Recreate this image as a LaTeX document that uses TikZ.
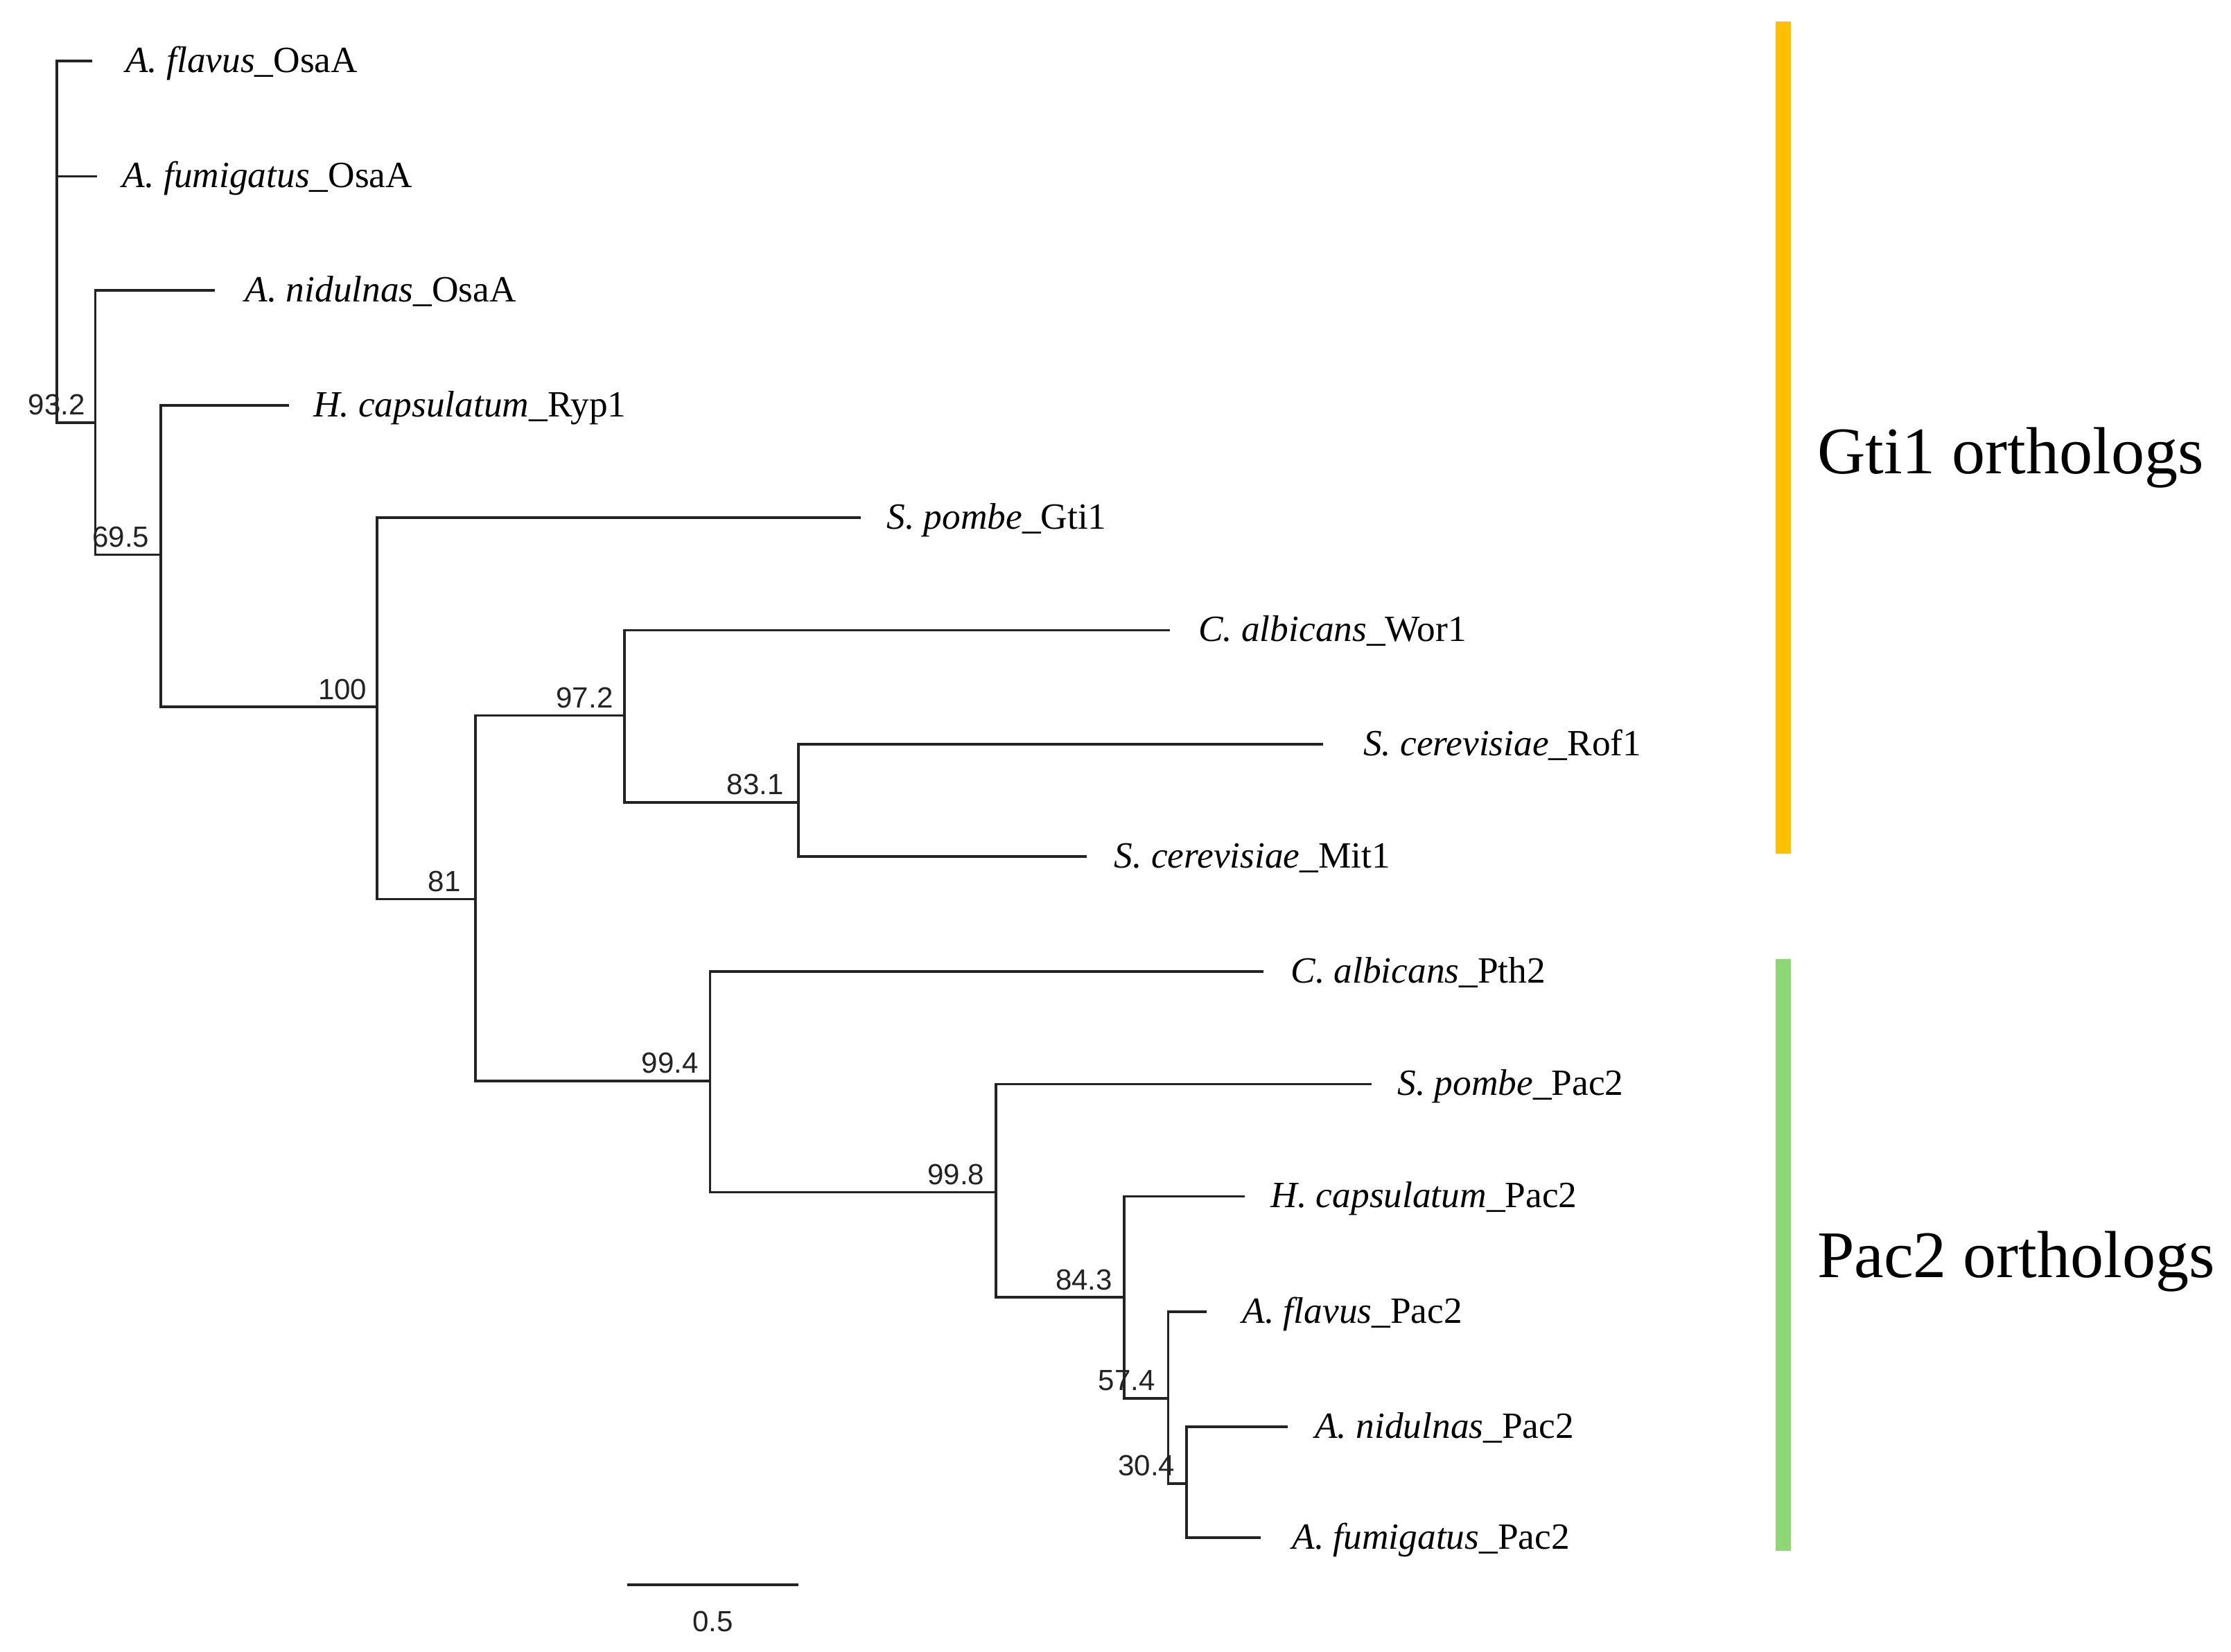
\documentclass[tikz,border=0pt]{standalone}
\usepackage{fontspec}
\setmainfont{Liberation Serif}
\newfontfamily\arialf{Liberation Sans}
\definecolor{barorange}{RGB}{255,192,0}
\definecolor{bargreen}{RGB}{143,214,116}
\definecolor{treeline}{RGB}{35,35,35}
\begin{document}
\begin{tikzpicture}[x=1pt,y=-1pt,
  branch/.style={draw=treeline,line width=1.8pt},
  leaf/.style={anchor=base west,inner sep=0pt,font=\fontsize{26}{30}\selectfont},
  boot/.style={anchor=base east,inner sep=0pt,text=treeline,font=\arialf\fontsize{20.5}{24}\selectfont},
  group/.style={anchor=base west,inner sep=0pt,font=\fontsize{46.8}{52}\selectfont}]
\useasboundingbox (0,0) rectangle (1568,1160.8);
% internal nodes
\coordinate (A) at (40,170);
\coordinate (B) at (67,297);
\coordinate (C) at (113,390);
\coordinate (D) at (265,497);
\coordinate (E) at (334,632);
\coordinate (F) at (439,503);
\coordinate (G) at (561,564);
\coordinate (H) at (499,760);
\coordinate (I) at (700,838);
\coordinate (J) at (790,912);
\coordinate (K) at (821,983);
\coordinate (L) at (834,1043);
% leaf tips
\coordinate (t1) at (65,43);
\coordinate (t2) at (68,124);
\coordinate (t3) at (151,204);
\coordinate (t4) at (203,285);
\coordinate (t5) at (605,364);
\coordinate (t6) at (822,443);
\coordinate (t7) at (930,523);
\coordinate (t8) at (764,602);
\coordinate (t9) at (888,683);
\coordinate (t10) at (964,762);
\coordinate (t11) at (875,841);
\coordinate (t12) at (848,922);
\coordinate (t13) at (905,1003);
\coordinate (t14) at (886,1081);
% branches
\path[branch] (A) |- (t1) (A) |- (t2) (A) |- (B);
\path[branch] (B) |- (t3) (B) |- (C);
\path[branch] (C) |- (t4) (C) |- (D);
\path[branch] (D) |- (t5) (D) |- (E);
\path[branch] (E) |- (F) (E) |- (H);
\path[branch] (F) |- (t6) (F) |- (G);
\path[branch] (G) |- (t7) (G) |- (t8);
\path[branch] (H) |- (t9) (H) |- (I);
\path[branch] (I) |- (t10) (I) |- (J);
\path[branch] (J) |- (t11) (J) |- (K);
\path[branch] (K) |- (t12) (K) |- (L);
\path[branch] (L) |- (t13) (L) |- (t14);
% leaf labels
\node[leaf] (l1) at (88,51) {\textit{A. flavus}\_OsaA};
\node[leaf] (l2) at (86,132) {\textit{A. fumigatus}\_OsaA};
\node[leaf] (l3) at (172,212) {\textit{A. nidulnas}\_OsaA};
\node[leaf] (l4) at (220,293) {\textit{H. capsulatum}\_Ryp1};
\node[leaf] (l5) at (623,372) {\textit{S. pombe}\_Gti1};
\node[leaf] (l6) at (842,451) {\textit{C. albicans}\_Wor1};
\node[leaf] (l7) at (958,531) {\textit{S. cerevisiae}\_Rof1};
\node[leaf] (l8) at (783,610) {\textit{S. cerevisiae}\_Mit1};
\node[leaf] (l9) at (907,691) {\textit{C. albicans}\_Pth2};
\node[leaf] (l10) at (982,770) {\textit{S. pombe}\_Pac2};
\node[leaf] (l11) at (893,849) {\textit{H. capsulatum}\_Pac2};
\node[leaf] (l12) at (873,930) {\textit{A. flavus}\_Pac2};
\node[leaf] (l13) at (924,1011) {\textit{A. nidulnas}\_Pac2};
\node[leaf] (l14) at (908,1089) {\textit{A. fumigatus}\_Pac2};
% bootstrap values
\node[boot] (bB) at ([shift={(-7,-5.5)}]B) {93.2};
\node[boot] (bC) at ([shift={(-8,-5.5)}]C) {69.5};
\node[boot] (bD) at ([shift={(-7,-5.5)}]D) {100};
\node[boot] (bE) at ([shift={(-10,-5.5)}]E) {81};
\node[boot] (bF) at ([shift={(-8,-5.5)}]F) {97.2};
\node[boot] (bG) at ([shift={(-10,-5.5)}]G) {83.1};
\node[boot] (bH) at ([shift={(-8,-5.5)}]H) {99.4};
\node[boot] (bI) at ([shift={(-8,-5.5)}]I) {99.8};
\node[boot] (bJ) at ([shift={(-8,-5.5)}]J) {84.3};
\node[boot] (bK) at ([shift={(-9,-5.5)}]K) {57.4};
\node[boot] (bL) at ([shift={(-8,-5.5)}]L) {30.4};
% scale bar
\coordinate (s1) at (441,1114);
\coordinate (s2) at (561,1114);
\path[branch] (s1) -- (s2);
\node[boot,anchor=base] (sl) at (501,1147) {0.5};
% group bars
\fill[barorange] (1248,15) rectangle (1258.5,600);
\fill[bargreen] (1248,674) rectangle (1258.5,1090);
\node[group] (g1) at (1277,333) {Gti1 orthologs};
\node[group] (g2) at (1277,898) {Pac2 orthologs};
\end{tikzpicture}
\end{document}
